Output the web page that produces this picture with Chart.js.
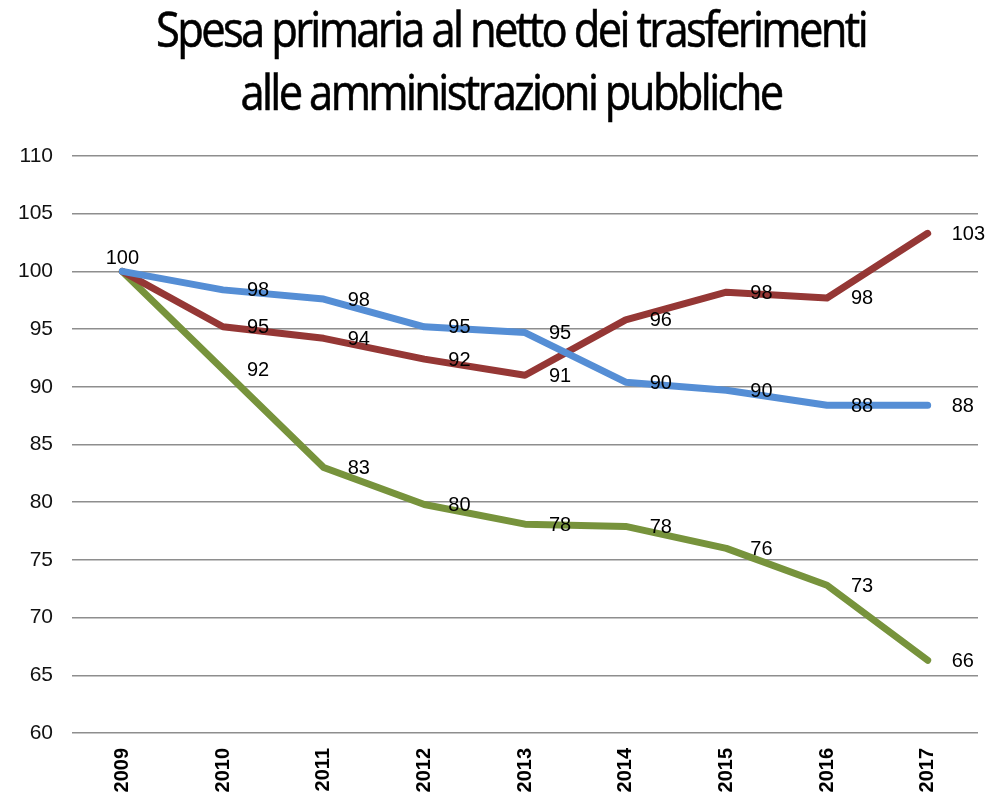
<!DOCTYPE html>
<html>
<head>
<meta charset="utf-8">
<script src="https://cdn.jsdelivr.net/npm/chart.js@4.4.1/dist/chart.umd.min.js"></script>
<style>
html,body{margin:0;padding:0;background:#fff;}
#wrap{width:989px;height:797px;position:relative;}
</style>
</head>
<body>
<div id="wrap"><canvas id="c" width="989" height="797"></canvas></div>
<script>
const titleLines = ["Spesa primaria al netto dei trasferimenti", "alle amministrazioni pubbliche"];
const years = ["2009","2010","2011","2012","2013","2014","2015","2016","2017"];
const seriesBlue  = [100, 98.4, 97.6, 95.2, 94.7, 90.4, 89.7, 88.4, 88.4];
const seriesRed   = [100, 95.2, 94.2, 92.4, 91.0, 95.8, 98.2, 97.7, 103.3];
const seriesGreen = [100, 91.5, 83.0, 79.8, 78.1, 77.9, 76.0, 72.8, 66.3];
const yMin = 60, yMax = 110, yStep = 5;

const titlePlugin = {
  id: 'customTitle',
  afterDraw(chart) {
    const ctx = chart.ctx;
    ctx.save();
    ctx.font = '49px "Open Sans"';
    ctx.fillStyle = '#000';
    ctx.strokeStyle = '#000';
    ctx.lineWidth = 0.6;
    ctx.textBaseline = 'alphabetic';
    ctx.textAlign = 'center';
    try { ctx.letterSpacing = '-3px'; } catch(e) {}
    const w = ctx.measureText(titleLines[0]).width;
    const sx = 710 / w;
    const baselines = [47, 110];
    titleLines.forEach((t, i) => {
      ctx.save();
      ctx.translate(511, baselines[i]);
      ctx.scale(sx, 1);
      ctx.fillText(t, 0, 0);
      ctx.strokeText(t, 0, 0);
      ctx.restore();
    });
    ctx.restore();
  }
};

const labelPlugin = {
  id: 'valueLabels',
  afterDatasetsDraw(chart) {
    const ctx = chart.ctx;
    ctx.save();
    ctx.font = '20px "Liberation Sans", Arial, sans-serif';
    ctx.fillStyle = '#000';
    const seen = new Set();
    chart.data.datasets.forEach((ds, di) => {
      const meta = chart.getDatasetMeta(di);
      meta.data.forEach((pt, i) => {
        const txt = String(Math.round(ds.data[i]));
        if (i === 0) {
          const key = txt + '@' + i;
          if (seen.has(key)) return;
          seen.add(key);
          ctx.textAlign = 'center';
          ctx.textBaseline = 'bottom';
          ctx.fillText(txt, pt.x, pt.y - 3);
        } else {
          ctx.textAlign = 'left';
          ctx.textBaseline = 'middle';
          ctx.fillText(txt, pt.x + 24, pt.y + 1);
        }
      });
    });
    ctx.restore();
  }
};

const mk = (data, color) => ({
  data: data,
  borderColor: color,
  backgroundColor: color,
  borderWidth: 7,
  pointRadius: 0,
  borderJoinStyle: 'round',
  borderCapStyle: 'round',
  tension: 0,
  fill: false
});

new Chart(document.getElementById('c'), {
  type: 'line',
  data: {
    labels: years,
    datasets: [
      mk(seriesBlue, '#558ED5'),
      mk(seriesRed, '#953735'),
      mk(seriesGreen, '#77933C')
    ]
  },
  options: {
    responsive: false,
    animation: false,
    devicePixelRatio: 1,
    layout: { padding: { top: 156, left: 0, right: 11, bottom: 0 } },
    plugins: {
      legend: { display: false },
      title: { display: false },
      tooltip: { enabled: false }
    },
    scales: {
      x: {
        offset: true,
        grid: { display: false, drawTicks: false },
        border: { display: false },
        ticks: {
          minRotation: 90, maxRotation: 90,
          padding: 15,
          color: '#000',
          font: { family: '"Liberation Sans", Arial, sans-serif', size: 20, weight: 'bold' }
        },
        afterFit(s) { s.height = 64; }
      },
      y: {
        min: yMin, max: yMax,
        ticks: {
          stepSize: yStep,
          padding: 19,
          color: '#111',
          font: { family: '"Liberation Sans", Arial, sans-serif', size: 21 }
        },
        grid: { color: '#8e8e8e', lineWidth: 1.5, drawTicks: false },
        border: { display: false },
        afterFit(s) { s.width = 72; }
      }
    }
  },
  plugins: [titlePlugin, labelPlugin]
});
</script>
</body>
</html>
